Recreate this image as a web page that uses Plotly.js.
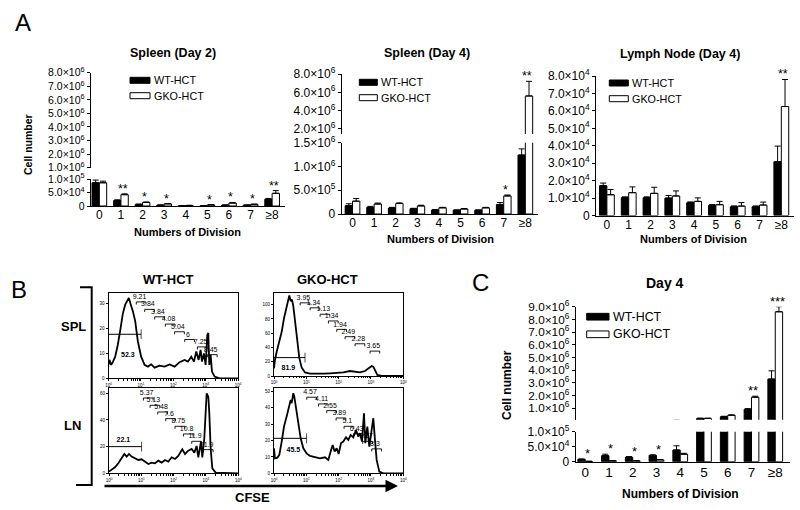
<!DOCTYPE html>
<html><head><meta charset="utf-8">
<script src="https://cdn.plot.ly/plotly-3.0.1.min.js"></script>
<style>html,body{margin:0;padding:0;background:#fff}#chart{width:800px;height:510px}</style>
</head><body><div id="chart"></div>
<script>
// ---------------- DATA ----------------
const divisions = ['0','1','2','3','4','5','6','7','≥8'];
const seriesNames = ['WT-HCT','GKO-HCT'];

// A: Spleen (Day 2)
const spleenD2_WT     = [8.6e4, 2.0e4, 0.6e4, 0.3e4, 0.1e4, 0.1e4, 0.3e4, 0.3e4, 2.5e4];
const spleenD2_WTerr  = [1.0e4, 0.3e4, 0.1e4, 0.1e4, 0.05e4, 0.05e4, 0.1e4, 0.1e4, 0.3e4];
const spleenD2_GKO    = [8.6e4, 4.2e4, 1.3e4, 0.8e4, 0.2e4, 0.4e4, 1.1e4, 0.6e4, 4.7e4];
const spleenD2_GKOerr = [0.6e4, 0.3e4, 0.2e4, 0.1e4, 0.05e4, 0.1e4, 0.2e4, 0.1e4, 1.0e4];
const spleenD2_sig    = ['', '**', '*', '*', '', '*', '*', '*', '**'];

// A: Spleen (Day 4)
const spleenD4_WT     = [1.75e5, 1.4e5, 1.25e5, 1.1e5, 0.85e5, 0.8e5, 0.8e5, 2.0e5, 1.24e6];
const spleenD4_WTerr  = [0.4e5, 0.2e5, 0.15e5, 0.1e5, 0.1e5, 0.05e5, 0.05e5, 0.4e5, 0.13e6];
const spleenD4_GKO    = [2.7e5, 2.1e5, 2.2e5, 1.7e5, 1.3e5, 1.05e5, 1.3e5, 3.8e5, 5.6e6];
const spleenD4_GKOerr = [0.55e5, 0.2e5, 0.15e5, 0.15e5, 0.1e5, 0.1e5, 0.1e5, 0.2e5, 1.6e6];
const spleenD4_sig    = ['', '', '', '', '', '', '', '*', '**'];

// A: Lymph Node (Day 4)
const lnD4_WT     = [1.71e4, 1.02e4, 1.02e4, 1.0e4, 0.73e4, 0.58e4, 0.5e4, 0.5e4, 3.08e4];
const lnD4_WTerr  = [0.15e4, 0.05e4, 0.05e4, 0.15e4, 0.05e4, 0.05e4, 0.05e4, 0.05e4, 0.9e4];
const lnD4_GKO    = [1.19e4, 1.31e4, 1.27e4, 1.12e4, 0.81e4, 0.62e4, 0.54e4, 0.6e4, 6.25e4];
const lnD4_GKOerr = [0.3e4, 0.33e4, 0.35e4, 0.29e4, 0.2e4, 0.19e4, 0.2e4, 0.17e4, 1.55e4];
const lnD4_sig    = ['', '', '', '', '', '', '', '', '**'];

// C: Day 4
const day4_WT     = [0.8e4, 2.0e4, 1.5e4, 2.1e4, 3.9e4, 2.0e5, 3.4e5, 9.2e5, 3.3e6];
const day4_WTerr  = [0.1e4, 0.5e4, 0.2e4, 0.2e4, 1.4e4, 0.2e5, 0.3e5, 0.5e5, 0.65e6];
const day4_GKO    = [0.1e4, 0.3e4, 0.3e4, 0.6e4, 2.5e4, 2.0e5, 4.5e5, 1.87e6, 8.6e6];
const day4_GKOerr = [0.05e4, 0.05e4, 0.05e4, 0.1e4, 0.3e4, 0.2e5, 0.3e5, 0.08e6, 0.4e6];
const day4_sig    = ['*', '*', '*', '*', '', '', '', '**', '***'];

// tick labels
const tA1upVals = [1e6,2e6,3e6,4e6,5e6,6e6,7e6,8e6];
const tA1upText = ['1.0×10<sup>6</sup>','2.0×10<sup>6</sup>','3.0×10<sup>6</sup>','4.0×10<sup>6</sup>','5.0×10<sup>6</sup>','6.0×10<sup>6</sup>','7.0×10<sup>6</sup>','8.0×10<sup>6</sup>'];
const tA1loVals = [0, 5e4, 1e5];
const tA1loText = ['0','5.0×10<sup>4</sup>','1.0×10<sup>5</sup>'];
const tA2upVals = [2e6,4e6,6e6,8e6];
const tA2upText = ['2.0×10<sup>6</sup>','4.0×10<sup>6</sup>','6.0×10<sup>6</sup>','8.0×10<sup>6</sup>'];
const tA2loVals = [0, 5e5, 1e6, 1.5e6];
const tA2loText = ['0','5.0×10<sup>5</sup>','1.0×10<sup>6</sup>','1.5×10<sup>6</sup>'];
const tA3Vals = [0,1e4,2e4,3e4,4e4,5e4,6e4,7e4,8e4];
const tA3Text = ['0','1.0×10<sup>4</sup>','2.0×10<sup>4</sup>','3.0×10<sup>4</sup>','4.0×10<sup>4</sup>','5.0×10<sup>4</sup>','6.0×10<sup>4</sup>','7.0×10<sup>4</sup>','8.0×10<sup>4</sup>'];
const tCupVals = [1e6,2e6,3e6,4e6,5e6,6e6,7e6,8e6,9e6];
const tCupText = ['1.0×10<sup>6</sup>','2.0×10<sup>6</sup>','3.0×10<sup>6</sup>','4.0×10<sup>6</sup>','5.0×10<sup>6</sup>','6.0×10<sup>6</sup>','7.0×10<sup>6</sup>','8.0×10<sup>6</sup>','9.0×10<sup>6</sup>'];
const tCloVals = [0, 5e4, 1e5];
const tCloText = ['0','5.0×10<sup>4</sup>','1.0×10<sup>5</sup>'];
const cfseTickVals = [1,10,100,1000,10000];
const cfseTickText = ['10<sup>0</sup>','10<sup>1</sup>','10<sup>2</sup>','10<sup>3</sup>','10<sup>4</sup>'];

// B: CFSE histograms (CFSE intensity, % of max)
const wtSplX = [1.0,1.07,1.21,1.36,1.61,1.94,2.35,2.77,3.28,3.78,4.25,4.79,5.66,6.68,8.08,10.2,13.0,16.5,20.9,26.5,37.8,54,77.1,110,157,224,284,360,436,514,608,700,771,888,1000,1127,1209,1297,1428,1571,1897,2710,10000];
const wtSplY = [5.4,7.4,5.4,6.5,8.7,13.5,20,26,29.6,31,32.3,30,27,23,14.8,8.7,5.4,4.7,5.6,4.3,5.1,4.7,5.6,4.7,6.5,7.4,6.7,8.7,6.7,10.8,7.4,11.4,6.7,10,5.4,17.5,18.2,5.4,9.4,2.7,0.7,0,0];
const gkoSplX = [1.0,1.07,1.21,1.46,1.73,2.04,2.35,2.71,2.98,3.28,3.6,3.96,4.57,5.27,6.08,7.17,9.1,13.0,20.9,33.6,54,86.7,139,224,320,457,652,888,1049,1180,1330,1571,2138,10000];
const gkoSplY = [10.8,22.5,34,48,62,81,93,109,113,105,107,98,72,44,25,12,5,3.3,2.8,3.3,3.8,4.2,5.2,7,6,5.2,7,10.8,14,13,7,1.4,0,0];
const wtLnX = [1,1.21,1.53,1.94,2.46,2.98,3.52,4.15,5.02,6.37,8.08,10.2,13.0,16.5,20.9,26.5,33.6,42.6,54,68.4,86.7,110,139,185,224,284,360,436,514,579,700,771,888,977,1049,1180,1268,1394,1571,1991,10000];
const wtLnY = [1.25,2.5,4.5,7.5,11.25,14.5,12.5,14.5,12.5,11.25,10,10.5,8.75,7,8,7.5,9.5,8,10,8.75,12,10.75,13,18,14.5,17,18.25,15.5,20.5,12,23.75,12,26.25,50,60,57.5,45,18.75,3.75,0.5,0];
const gkoLnX = [1,1.07,1.27,1.46,1.73,2.04,2.46,2.84,3.28,3.52,3.96,4.25,4.79,5.66,6.68,8.08,10.2,13.0,18.5,26.5,37.8,47.9,56.6,65.2,75.2,86.7,100,118,139,169,199,235,284,344,406,457,527,608,668,771,888,1049,1180,1330,1497,1811,2406,10000];
const gkoLnY = [15.3,9.2,9.6,11.2,19.4,28.6,34.7,40.8,44.9,42.9,49,46.9,40.8,30.6,21.4,15.3,12.2,10.6,9.8,9.2,9.8,8.2,13.3,17.3,13.3,15.3,11.8,18.4,19.4,22,20.4,23.5,22,26.5,22.4,24.5,19.4,36.7,18.4,28.6,16.3,28.6,33.7,20.4,8.2,1,0,0];

// gates
const wtSplGateX = [1, 10.2], wtSplGateY = 17.7, wtSplGateLabel = '52.3', wtSplGateLabelXY = [3.96, 9.4];
const gkoSplGateX = [1, 9.1], gkoSplGateY = 25.8, gkoSplGateLabel = '81.9', gkoSplGateLabelXY = [2.77, 10.8];
const wtLnGateX = [1, 10.2], wtLnGateY = 20, wtLnGateLabel = '22.1', wtLnGateLabelXY = [2.77, 24.5];
const gkoLnGateX = [1, 10.2], gkoLnGateY = 21.4, gkoLnGateLabel = '45.5', gkoLnGateLabelXY = [3.96, 14.3];

const wtSplDivLabels = ['9.21','3.84','3.84','4.08','5.04','6','7.25','8.45'];
const wtSplDivX = [9.1,16.5,33.6,71.8,139,284,700,1428];
const wtSplDivY = [32.6,29.6,26.6,23.7,20.6,17.5,14.5,11.4];
const gkoSplDivLabels = ['3.95','1.34','1.13','1.34','1.94','2.49','2.28','3.65'];
const gkoSplDivX = [8.1,16.5,33.6,60.8,110,199,406,1180];
const gkoSplDivY = [109,102,93,83.6,71.8,61.5,51.6,41.3];
const wtLnDivLabels = ['5.37','5.13','5.48','7.6','8.75','10.8','11.9','21.9'];
const wtLnDivX = [14.6,23.5,40.6,71.8,139,252,457,1047];
const wtLnDivY = [60,54.5,49.5,44.5,38.75,33,27.5,21.25];
const gkoLnDivLabels = ['4.57','4.11','2.55','3.89','5.1','6.43','9.57','8.3'];
const gkoLnDivX = [13.0,29.8,54,105,185,360,700,1330];
const gkoLnDivY = [49.4,45.3,41.2,36.7,31.6,27.1,22.4,17.8];

// ---------------- LAYOUT HELPERS ----------------
const W = 800, H = 510;
const X = p => p / W;
const Y = p => 1 - p / H;
const traces = [], ann = [], shapes = [];
const FONT = 'Liberation Sans, Arial, Helvetica, sans-serif';

const layout = {
  width: W, height: H, margin: {l:0, r:0, t:0, b:0},
  paper_bgcolor: '#fff', plot_bgcolor: 'rgba(0,0,0,0)',
  font: {family: FONT, color: '#000', size: 11},
  showlegend: false, barmode: 'overlay'
};

function catAxis(x0, x1, anchor, range, fs) {
  return {domain: [X(x0), X(x1)], anchor, type: 'category', range,
    showline: true, linecolor: '#000', linewidth: 1, ticks: '', showgrid: false,
    zeroline: false, tickfont: {size: fs, color: '#000'}, fixedrange: true, ticklabelstandoff: -2};
}
function valAxis(top, bottom, anchor, range, vals, text, fs) {
  return {domain: [Y(bottom), Y(top)], anchor, range, tickmode: 'array', tickvals: vals, ticktext: text,
    showline: true, linecolor: '#000', linewidth: 1, ticks: 'outside', ticklen: 3, tickcolor: '#000',
    showgrid: false, zeroline: false, tickfont: {size: fs, color: '#000'}, fixedrange: true};
}
function addBars(wt, wtE, gko, gkoE, xa, ya, w) {
  const zeros = wt.map(() => 0);
  const common = {type: 'bar', x: divisions, xaxis: xa, yaxis: ya, width: w, hoverinfo: 'skip', showlegend: false};
  const eb = (arr) => ({type: 'data', symmetric: false, array: arr, arrayminus: zeros, color: '#000', thickness: 1, width: 3});
  traces.push(Object.assign({}, common, {y: wt, offset: -w, marker: {color: '#000', line: {color: '#000', width: 1}}, error_y: eb(wtE)}));
  traces.push(Object.assign({}, common, {y: gko, offset: 0, marker: {color: '#fff', line: {color: '#000', width: 1}}, error_y: eb(gkoE)}));
}
function addSig(sig, wt, wtE, gko, gkoE, xa, lowY, lowMax, upY, fs) {
  sig.forEach((s, i) => {
    if (!s) return;
    const top = Math.max(wt[i] + wtE[i], gko[i] + gkoE[i]);
    const ya = (upY && top > lowMax) ? upY : lowY;
    ann.push({xref: xa, yref: ya, x: divisions[i], y: top, text: s, showarrow: false,
      yanchor: 'bottom', xanchor: 'center', xshift: 2, yshift: -4, font: {size: fs}});
  });
}
function addLegend(x0, x1, yWT, yGKO, h, textX, fs) {
  [yWT, yGKO].forEach((yc, k) => {
    shapes.push({type: 'rect', xref: 'paper', yref: 'paper', x0: X(x0), x1: X(x1), y0: Y(yc + h/2), y1: Y(yc - h/2),
      fillcolor: k ? '#fff' : '#000', line: {color: '#000', width: 1}});
    ann.push({xref: 'paper', yref: 'paper', x: X(textX), y: Y(yc), xanchor: 'left', yanchor: 'middle',
      text: seriesNames[k], showarrow: false, font: {size: fs}});
  });
}
function txt(x, y, s, fs, bold, extra) {
  ann.push(Object.assign({xref: 'paper', yref: 'paper', x: X(x), y: Y(y), text: bold ? '<b>' + s + '</b>' : s,
    showarrow: false, xanchor: 'center', yanchor: 'middle', font: {size: fs}}, extra || {}));
}

// ---------------- PANEL A ----------------
// A1 Spleen Day 2
layout.xaxis  = catAxis(90.7, 285.1, 'y', [-0.4, 8.6], 12);
layout.yaxis  = valAxis(179, 206, 'x', [0, 1e5], tA1loVals, tA1loText, 10.5);
layout.yaxis2 = valAxis(72.7, 167.7, 'x', [1e6, 8e6], tA1upVals, tA1upText, 10.5);
addBars(spleenD2_WT, spleenD2_WTerr, spleenD2_GKO, spleenD2_GKOerr, 'x', 'y', 0.34);
addBars(spleenD2_WT, spleenD2_WTerr, spleenD2_GKO, spleenD2_GKOerr, 'x', 'y2', 0.34);
addSig(spleenD2_sig, spleenD2_WT, spleenD2_WTerr, spleenD2_GKO, spleenD2_GKOerr, 'x', 'y', 1e5, 'y2', 12.5);
addLegend(130, 150, 80.3, 95.7, 6, 151.5, 10.8);

// A2 Spleen Day 4
layout.xaxis2 = catAxis(341.7, 538.3, 'y3', [-0.5, 8.6], 12);
layout.yaxis3 = valAxis(142.7, 214, 'x2', [0, 1.5e6], tA2loVals, tA2loText, 12);
layout.yaxis4 = valAxis(74, 134, 'x2', [1.45e6, 8e6], tA2upVals, tA2upText, 12);
addBars(spleenD4_WT, spleenD4_WTerr, spleenD4_GKO, spleenD4_GKOerr, 'x2', 'y3', 0.34);
addBars(spleenD4_WT, spleenD4_WTerr, spleenD4_GKO, spleenD4_GKOerr, 'x2', 'y4', 0.34);
addSig(spleenD4_sig, spleenD4_WT, spleenD4_WTerr, spleenD4_GKO, spleenD4_GKOerr, 'x2', 'y3', 1.5e6, 'y4', 12.5);
addLegend(359.3, 377.3, 82.3, 97.7, 6, 379, 10.8);

// A3 Lymph node Day 4
layout.xaxis3 = catAxis(596, 794.4, 'y5', [-0.5, 8.6], 12);
layout.yaxis5 = valAxis(76, 215.5, 'x3', [0, 8e4], tA3Vals, tA3Text, 12);
addBars(lnD4_WT, lnD4_WTerr, lnD4_GKO, lnD4_GKOerr, 'x3', 'y5', 0.34);
addSig(lnD4_sig, lnD4_WT, lnD4_WTerr, lnD4_GKO, lnD4_GKOerr, 'x3', 'y5', 8e4, null, 12.5);
addLegend(609.3, 628.3, 83, 98.7, 6, 630, 10.8);

// ---------------- PANEL C ----------------
layout.xaxis4 = catAxis(575.7, 789.5, 'y6', [-0.4, 8.6], 13.5);
layout.yaxis6 = valAxis(431.7, 461.7, 'x4', [0, 1e5], tCloVals, tCloText, 12);
layout.yaxis7 = valAxis(306.7, 419.7, 'x4', [0.1e6, 9e6], tCupVals, tCupText, 11.8);
addBars(day4_WT, day4_WTerr, day4_GKO, day4_GKOerr, 'x4', 'y6', 0.31);
addBars(day4_WT, day4_WTerr, day4_GKO, day4_GKOerr, 'x4', 'y7', 0.31);
addSig(day4_sig, day4_WT, day4_WTerr, day4_GKO, day4_GKOerr, 'x4', 'y6', 1e5, 'y7', 13);
addLegend(586.7, 609, 316.7, 334.3, 6.7, 611, 12.4);

// ---------------- PANEL B ----------------
const minorLog = [];
for (let d = 0; d < 4; d++) for (let k = 2; k < 10; k++) minorLog.push(k * Math.pow(10, d));

function flowPanel(n, m, x0, x1, top, bottom, ymax, yticks, cx, cy, gX, gY, gLab, gLabXY, dLab, dX, dY) {
  layout['xaxis' + n] = {domain: [X(x0), X(x1)], anchor: 'y' + m, type: 'log', range: [0, 4],
    tickmode: 'array', tickvals: cfseTickVals, ticktext: cfseTickText, tickfont: {size: 4.5},
    showline: true, mirror: true, linecolor: '#000', linewidth: 1, ticks: 'outside', ticklen: 2,
    tickcolor: '#000', showgrid: false, zeroline: false,
    minor: {tickvals: minorLog, ticks: 'outside', ticklen: 1.2, tickcolor: '#000', showgrid: false}};
  layout['yaxis' + m] = {domain: [Y(bottom), Y(top)], anchor: 'x' + n, range: [0, ymax],
    tickmode: 'array', tickvals: yticks, tickfont: {size: 4.5},
    showline: true, mirror: true, linecolor: '#000', linewidth: 1, ticks: 'outside', ticklen: 2,
    tickcolor: '#000', showgrid: false, zeroline: false};
  const xa = 'x' + n, ya = 'y' + m;
  traces.push({type: 'scatter', mode: 'lines', x: cx, y: cy, xaxis: xa, yaxis: ya,
    line: {color: '#000', width: 1.8}, hoverinfo: 'skip'});
  traces.push({type: 'scatter', mode: 'lines+markers', x: gX, y: [gY, gY], xaxis: xa, yaxis: ya,
    line: {color: '#000', width: 1}, marker: {symbol: 'line-ns', size: [0, 7], line: {color: '#000', width: 1}},
    hoverinfo: 'skip', cliponaxis: false});
  traces.push({type: 'scatter', mode: 'text', x: [gLabXY[0]], y: [gLabXY[1]], text: ['<b>' + gLab + '</b>'],
    xaxis: xa, yaxis: ya, textfont: {size: 7, color: '#000'}, textposition: 'middle center', cliponaxis: false, hoverinfo: 'skip'});
  const bx = [], by = [];
  dX.forEach((x, i) => {
    const yb = dY[i] - 0.055 * ymax, t = 0.03 * ymax;
    const xl = x * Math.pow(10, -0.1), xr = x * Math.pow(10, 0.2);
    bx.push(xl, xl, xr, xr, null); by.push(yb - t, yb, yb, yb - t, null);
  });
  traces.push({type: 'scatter', mode: 'lines', x: bx, y: by, xaxis: xa, yaxis: ya,
    line: {color: '#000', width: 0.9}, hoverinfo: 'skip', cliponaxis: false, connectgaps: false});
  traces.push({type: 'scatter', mode: 'text', x: dX, y: dY, text: dLab, xaxis: xa, yaxis: ya,
    textfont: {size: 7, color: '#000'}, textposition: 'middle center', cliponaxis: false, hoverinfo: 'skip'});
}
flowPanel(5, 8, 108.5, 238, 293, 378.3, 34.3, [0,10,20,30], wtSplX, wtSplY,
  wtSplGateX, wtSplGateY, wtSplGateLabel, wtSplGateLabelXY, wtSplDivLabels, wtSplDivX, wtSplDivY);
flowPanel(6, 9, 274, 403.3, 293, 376, 116.4, [0,20,40,60,80,100], gkoSplX, gkoSplY,
  gkoSplGateX, gkoSplGateY, gkoSplGateLabel, gkoSplGateLabelXY, gkoSplDivLabels, gkoSplDivX, gkoSplDivY);
flowPanel(7, 10, 109, 238.3, 388.3, 473.3, 63.75, [0,20,40,60], wtLnX, wtLnY,
  wtLnGateX, wtLnGateY, wtLnGateLabel, wtLnGateLabelXY, wtLnDivLabels, wtLnDivX, wtLnDivY);
flowPanel(8, 11, 274, 403.3, 388.3, 473.3, 52, [0,10,20,30,40,50], gkoLnX, gkoLnY,
  gkoLnGateX, gkoLnGateY, gkoLnGateLabel, gkoLnGateLabelXY, gkoLnDivLabels, gkoLnDivX, gkoLnDivY);

// B decorations
shapes.push({type: 'path', xref: 'paper', yref: 'paper',
  path: `M ${X(80)} ${Y(287.3)} L ${X(91.7)} ${Y(287.3)} L ${X(91.7)} ${Y(485)} L ${X(76)} ${Y(485)}`,
  line: {color: '#000', width: 2}});
ann.push({xref: 'paper', yref: 'paper', x: X(398), y: Y(486), ax: -295, ay: 0, text: '', showarrow: true,
  arrowhead: 2, arrowsize: 1, arrowwidth: 2.5, arrowcolor: '#000', standoff: 0});

// ---------------- TEXT ----------------
txt(23, 23, 'A', 24, false);
txt(19, 289, 'B', 24, false);
txt(480, 282, 'C', 24, false);
txt(173, 53, 'Spleen (Day 2)', 12.5, true);
txt(427, 53, 'Spleen (Day 4)', 12.5, true);
txt(680, 54, 'Lymph Node (Day 4)', 12.5, true);
txt(665, 283, 'Day 4', 14, true);
txt(187, 232, 'Numbers of Division', 11, true);
txt(440, 238.5, 'Numbers of Division', 11, true);
txt(693, 238.5, 'Numbers of Division', 11, true);
txt(680, 494, 'Numbers of Division', 12, true);
txt(28, 145, 'Cell number', 10.5, true, {textangle: -90});
txt(507, 385, 'Cell number', 12, true, {textangle: -90});
txt(168, 279, 'WT-HCT', 13, true);
txt(327, 279, 'GKO-HCT', 13, true);
txt(73, 326, 'SPL', 13, true);
txt(72, 425, 'LN', 13, true);
txt(253, 497, 'CFSE', 13, true);

layout.annotations = ann;
layout.shapes = shapes;
Plotly.newPlot('chart', traces, layout, {staticPlot: true, displayModeBar: false});
</script>
</body></html>
